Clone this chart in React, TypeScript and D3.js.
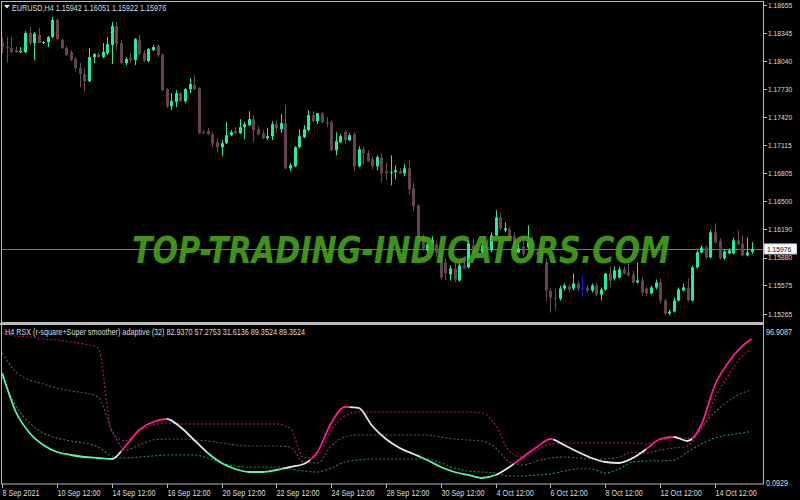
import React, { useLayoutEffect, useRef, useState } from 'react';
import * as d3 from 'd3';

const barOpen = [
  1.18237,1.18193,1.18182,1.18160,1.18138,1.18138,1.18347,1.18237,1.18325,1.18237,
  1.18248,1.18303,1.18490,1.18270,1.18182,1.18138,1.18061,1.17962,1.17896,1.17819,
  1.18083,1.18116,1.18083,1.18127,1.18215,1.18424,1.18237,1.18017,1.18072,1.18050,
  1.18270,1.18127,1.18039,1.18160,1.18204,1.18105,1.17731,1.17544,1.17588,1.17687,
  1.17599,1.17731,1.17775,1.17742,1.17258,1.17269,1.17236,1.17148,1.17093,1.17137,
  1.17225,1.17269,1.17247,1.17313,1.17335,1.17401,1.17291,1.17247,1.17192,1.17214,
  1.17346,1.17291,1.17357,1.16862,1.16884,1.17093,1.17203,1.17280,1.17445,1.17379,
  1.17467,1.17368,1.17368,1.17060,1.17148,1.17258,1.17170,1.17236,1.16884,1.17071,
  1.17027,1.16961,1.16884,1.16983,1.16829,1.16807,1.16818,1.16829,1.16807,1.16862,
  1.16642,1.16455,1.16103,1.15960,1.16026,1.16026,1.15938,1.15828,1.15696,1.15762,
  1.15630,1.15795,1.15773,1.16015,1.15982,1.15938,1.16004,1.15960,1.16125,1.16323,
  1.16180,1.16191,1.16114,1.15938,1.16004,1.15993,1.16048,1.15938,1.15938,1.15828,
  1.15520,1.15443,1.15432,1.15542,1.15564,1.15542,1.15597,1.15542,1.15553,1.15520,
  1.15575,1.15476,1.15531,1.15707,1.15652,1.15663,1.15751,1.15718,1.15696,1.15608,
  1.15630,1.15542,1.15487,1.15553,1.15608,1.15410,1.15267,1.15289,1.15410,1.15520,
  1.15553,1.15410,1.15773,1.15938,1.15993,1.15883,1.16158,1.16059,1.15872,1.15927,
  1.15927,1.16070,1.16037,1.15905,1.15942,
];
const barHigh = [
  1.18303,1.18303,1.18303,1.18193,1.18193,1.18369,1.18413,1.18358,1.18402,1.18259,
  1.18314,1.18523,1.18512,1.18281,1.18204,1.18160,1.18083,1.18017,1.17962,1.18182,
  1.18127,1.18138,1.18237,1.18303,1.18468,1.18468,1.18270,1.18083,1.18127,1.18292,
  1.18325,1.18160,1.18182,1.18215,1.18226,1.18127,1.17742,1.17687,1.17720,1.17698,
  1.17742,1.17852,1.17885,1.17753,1.17280,1.17302,1.17258,1.17192,1.17170,1.17368,
  1.17280,1.17313,1.17401,1.17368,1.17489,1.17445,1.17324,1.17280,1.17302,1.17379,
  1.17390,1.17456,1.17555,1.16917,1.17104,1.17291,1.17335,1.17500,1.17489,1.17467,
  1.17478,1.17423,1.17390,1.17258,1.17236,1.17280,1.17247,1.17258,1.17104,1.17104,
  1.17060,1.16994,1.17005,1.17027,1.16928,1.17005,1.16895,1.16862,1.16906,1.16950,
  1.16708,1.16466,1.16136,1.16048,1.16114,1.16070,1.15960,1.15872,1.15795,1.15828,
  1.15828,1.15850,1.16070,1.16092,1.16048,1.16070,1.16081,1.16158,1.16400,1.16378,
  1.16268,1.16224,1.16158,1.16026,1.16070,1.16235,1.16114,1.15982,1.15960,1.15872,
  1.15542,1.15542,1.15575,1.15597,1.15586,1.15707,1.15630,1.15674,1.15575,1.15597,
  1.15608,1.15553,1.15707,1.15784,1.15784,1.15784,1.15784,1.15817,1.15740,1.15828,
  1.15663,1.15564,1.15575,1.15641,1.15652,1.15432,1.15311,1.15443,1.15553,1.15597,
  1.15652,1.15795,1.15960,1.16015,1.16015,1.16180,1.16257,1.16092,1.15971,1.15982,
  1.16103,1.16180,1.16125,1.16103,1.16051,
];
const barLow = [
  1.18127,1.18028,1.18127,1.18127,1.18127,1.18127,1.18215,1.18050,1.18237,1.18226,
  1.18193,1.18292,1.18270,1.18171,1.18094,1.18039,1.17929,1.17753,1.17698,1.17808,
  1.18017,1.18072,1.18072,1.18105,1.18006,1.18160,1.18006,1.17995,1.18028,1.17995,
  1.18105,1.18028,1.18028,1.18149,1.18083,1.17709,1.17522,1.17500,1.17533,1.17588,
  1.17577,1.17687,1.17720,1.17236,1.17236,1.17225,1.17093,1.17038,1.16994,1.17126,
  1.17214,1.17236,1.17236,1.17181,1.17324,1.17148,1.17225,1.17181,1.17170,1.17170,
  1.17247,1.17247,1.16851,1.16829,1.16873,1.17082,1.17192,1.17269,1.17368,1.17346,
  1.17357,1.17313,1.17049,1.17005,1.17137,1.17126,1.17159,1.16840,1.16873,1.16906,
  1.16928,1.16851,1.16840,1.16708,1.16730,1.16675,1.16741,1.16796,1.16774,1.16565,
  1.16400,1.16092,1.15960,1.15927,1.15993,1.15894,1.15641,1.15630,1.15630,1.15608,
  1.15619,1.15751,1.15762,1.15894,1.15872,1.15916,1.15938,1.15938,1.16114,1.16180,
  1.16158,1.16070,1.15916,1.15927,1.15894,1.15960,1.15927,1.15894,1.15806,1.15410,
  1.15278,1.15300,1.15410,1.15520,1.15498,1.15520,1.15509,1.15465,1.15498,1.15498,
  1.15454,1.15410,1.15520,1.15553,1.15630,1.15652,1.15696,1.15674,1.15586,1.15597,
  1.15465,1.15454,1.15476,1.15531,1.15377,1.15245,1.15245,1.15278,1.15399,1.15509,
  1.15399,1.15399,1.15762,1.15927,1.15872,1.15872,1.16037,1.15861,1.15850,1.15916,
  1.15916,1.16015,1.15894,1.15894,1.15922,
];
const barClose = [
  1.18193,1.18182,1.18138,1.18138,1.18149,1.18347,1.18237,1.18336,1.18237,1.18248,
  1.18303,1.18490,1.18281,1.18182,1.18105,1.18050,1.17962,1.17896,1.17819,1.18083,
  1.18116,1.18083,1.18138,1.18226,1.18424,1.18226,1.18017,1.18061,1.18050,1.18281,
  1.18116,1.18039,1.18171,1.18193,1.18105,1.17720,1.17544,1.17599,1.17687,1.17599,
  1.17731,1.17786,1.17731,1.17247,1.17247,1.17236,1.17137,1.17093,1.17137,1.17225,
  1.17258,1.17247,1.17313,1.17346,1.17401,1.17280,1.17236,1.17192,1.17214,1.17346,
  1.17302,1.17357,1.16862,1.16895,1.17093,1.17214,1.17291,1.17445,1.17379,1.17467,
  1.17368,1.17357,1.17060,1.17159,1.17214,1.17170,1.17225,1.16884,1.17071,1.17027,
  1.16939,1.16884,1.16983,1.16807,1.16807,1.16818,1.16840,1.16807,1.16862,1.16631,
  1.16444,1.16103,1.15982,1.16026,1.16070,1.15938,1.15663,1.15707,1.15762,1.15641,
  1.15795,1.15762,1.16037,1.15938,1.15927,1.16015,1.15960,1.16125,1.16323,1.16202,
  1.16202,1.16103,1.15938,1.15982,1.15916,1.16048,1.15938,1.15916,1.15828,1.15520,
  1.15443,1.15432,1.15542,1.15575,1.15531,1.15597,1.15542,1.15542,1.15520,1.15575,
  1.15476,1.15531,1.15707,1.15630,1.15740,1.15751,1.15707,1.15685,1.15608,1.15630,
  1.15498,1.15487,1.15553,1.15608,1.15410,1.15267,1.15289,1.15410,1.15531,1.15553,
  1.15410,1.15773,1.15938,1.15993,1.15883,1.16158,1.16048,1.15872,1.15949,1.15960,
  1.16070,1.16026,1.15905,1.15938,1.15976,
];

const priceTicks = [1.18655,1.18345,1.18040,1.17730,1.17420,1.17115,1.16805,1.16500,1.16190,1.15880,1.15575,1.15265];
const lastPrice = 1.15976;

const timeLabels = ['8 Sep 2021','10 Sep 12:00','14 Sep 12:00','16 Sep 12:00','20 Sep 12:00','22 Sep 12:00','24 Sep 12:00','28 Sep 12:00','30 Sep 12:00','4 Oct 12:00','6 Oct 12:00','8 Oct 12:00','12 Oct 12:00','14 Oct 12:00'];
const timeLabelBars = [0,12,24,36,48,60,72,84,96,108,120,132,144,156];

const indicatorBars = [
  0,3,6,9,12,15,18,21,24,27,30,33,36,39,42,45,48,51,54,57,
  60,63,66,69,72,75,78,81,84,87,90,93,96,99,102,105,108,111,114,117,
  120,123,126,129,132,135,138,141,144,147,150,153,156,159,162,164,
];
const rsxLine = [
  68.09,43.68,30.54,23.03,18.65,16.77,15.52,14.89,14.27,22.40,
  32.42,37.42,39.30,34.29,26.16,18.02,11.77,8.01,6.13,6.13,
  7.38,9.26,11.14,18.65,36.80,46.80,46.20,34.92,26.78,21.15,
  17.40,13.64,9.26,6.13,4.26,2.38,4.26,9.26,15.52,21.78,
  26.78,23.03,18.65,14.89,12.39,11.77,14.89,20.53,26.78,28.04,
  25.53,35.55,60.58,74.97,84.98,89.3524,
];
const upperBand = [
  93.12,91.24,90.62,89.36,88.74,87.49,86.24,83.73,31.16,25.53,
  31.79,35.55,36.80,36.17,36.17,36.17,36.17,36.17,36.17,36.17,
  36.17,33.67,14.89,16.77,32.42,41.18,43.68,43.68,43.68,43.68,
  43.68,43.68,43.68,43.68,43.68,43.06,35.55,19.27,15.52,19.90,
  23.66,24.28,24.28,24.28,24.28,24.28,24.28,23.66,26.16,27.41,
  27.41,32.42,52.44,66.84,78.73,82.937,
];
const middleBand = [
  80.60,68.71,63.71,61.20,58.70,56.82,55.57,53.07,32.42,19.90,
  23.03,26.16,26.78,26.78,26.16,25.53,24.28,23.03,22.40,22.40,
  22.40,21.78,12.39,11.77,22.40,28.04,29.29,29.29,29.29,29.29,
  29.29,29.29,28.04,26.78,26.16,25.53,21.15,12.39,10.51,13.02,
  14.89,15.52,14.89,14.27,14.27,15.52,18.65,18.02,19.90,21.15,
  22.40,33.67,43.68,50.56,55.57,57.2753,
];
const lowerBand = [
  65.58,47.43,36.80,30.54,27.41,25.53,24.28,21.78,16.15,14.89,
  15.52,16.15,16.77,16.77,16.77,14.89,11.77,9.89,9.26,9.26,
  9.26,8.01,6.76,6.13,8.64,12.39,13.64,14.27,14.27,14.27,
  14.27,14.27,11.77,8.64,6.76,6.13,5.51,3.63,3.63,4.26,
  4.88,6.76,8.01,8.01,5.51,8.01,12.39,13.02,13.02,13.64,
  18.65,23.66,27.41,29.29,30.54,31.6136,
];
// trend state of the RSX line between bar indices
const rsxStateFrom = [-1,24,26,36,45,61.5,67.4,76,91.5,108,112,120.6,141,147,151];
const rsxStateTo = [24,26,36,45,61.5,67.4,76,91.5,108,112,120.6,141,147,151,166];
const rsxState = ['down','flat','up','flat','down','flat','up','flat','down','flat','up','flat','up','flat','up'];

const indMax = 96.9087;
const indMin = 0.0929;

const FONT = '"Liberation Sans", Arial, sans-serif';
const TXT = '#dedede';

function Label({ x, y, children, fill = TXT, size = 8.6, sx = 0.84 }: any) {
  return (
    <text transform={`translate(${x},${y}) scale(${sx},1)`} fill={fill} fontSize={size} fontFamily={FONT}>
      {children}
    </text>
  );
}

function Watermark() {
  const ref = useRef<SVGTextElement>(null);
  const [sx, setSx] = useState(0.74);
  useLayoutEffect(() => {
    if (ref.current) {
      const len = ref.current.getComputedTextLength();
      if (len > 0) setSx(538 / len);
    }
  }, []);
  return (
    <text
      ref={ref}
      transform={`translate(132,263) scale(${sx},1)`}
      fontFamily='"DejaVu Sans", sans-serif'
      fontWeight="bold"
      fontStyle="italic"
      fontSize={37}
      fill="#46a01c"
      fillOpacity={0.92}
    >
      TOP-TRADING-INDICATORS.COM
    </text>
  );
}

export default function App() {
  const n = barClose.length;
  const x = d3.scaleLinear().domain([0, n - 1]).range([2.2, 751.5]);
  const yP = d3.scaleLinear().domain([1.15265, 1.18655]).range([313.7, 5]);
  const yI = d3.scaleLinear().domain([indMin, indMax]).range([481.65, 326.94]);

  const mk = (vals: number[]) =>
    d3.line<number>().x((_, i) => x(indicatorBars[i])).y((d) => yI(d)).curve(d3.curveMonotoneX)(vals) || '';

  const stateColor: Record<string, string> = { up: '#ff1a8e', flat: '#e6e6e6', down: '#5ef2a6' };

  const bull = '#1cf0a0';
  const bear = '#644355';
  const bearWick = '#6e4c5e';

  const rsxPath = mk(rsxLine);

  return (
    <div style={{ position: 'absolute', left: 0, top: 0, width: 800, height: 500, background: '#000' }}>
      <svg width={800} height={500} style={{ display: 'block' }}>
        <defs>
          <clipPath id="mainClip">
            <rect x={2} y={2} width={761} height={320} />
          </clipPath>
          <clipPath id="subClip">
            <rect x={2} y={326} width={761} height={157} />
          </clipPath>
          {rsxState.map((s, i) => (
            <clipPath id={`rsx-${i}`} key={i}>
              <rect x={x(rsxStateFrom[i])} y={320} width={x(rsxStateTo[i]) - x(rsxStateFrom[i])} height={170} />
            </clipPath>
          ))}
        </defs>
        <rect x={0} y={0} width={800} height={500} fill="#000" />

        {/* main panel */}
        <g clipPath="url(#mainClip)">
          <line x1={0} x2={763} y1={Math.round(yP(lastPrice)) + 0.5} y2={Math.round(yP(lastPrice)) + 0.5} stroke="#8a6a76" strokeWidth={1} />
          {barClose.map((c, i) => {
            const o = barOpen[i];
            const cx = Math.round(x(i)) + 0.5;
            const isDoji = o === c;
            const up = c > o;
            const col = isDoji ? '#1a1ae0' : up ? bull : bear;
            const wcol = isDoji ? '#1a1ae0' : up ? bull : bearWick;
            const top = yP(Math.max(o, c));
            const bot = yP(Math.min(o, c));
            return (
              <g key={i}>
                <line x1={cx} x2={cx} y1={yP(barHigh[i])} y2={yP(barLow[i])} stroke={wcol} strokeWidth={1} />
                <rect x={cx - 1.5} y={top} width={3} height={Math.max(1, bot - top)} fill={col} />
              </g>
            );
          })}
          <Watermark />
        </g>

        {/* frames */}
        <rect x={1.5} y={1.5} width={762} height={321} fill="none" stroke="#b8b8b8" strokeWidth={1} />
        <line x1={0} x2={764} y1={324} y2={324} stroke="#bdbdbd" strokeWidth={2} />
        <line x1={1.5} x2={1.5} y1={324} y2={484} stroke="#b8b8b8" strokeWidth={1} />
        <line x1={763.5} x2={763.5} y1={324} y2={484} stroke="#b8b8b8" strokeWidth={1} />
        <line x1={1} x2={764} y1={484} y2={484} stroke="#b8b8b8" strokeWidth={1} />

        {/* title */}
        <path d="M4,5 L10,5 L7,8.5 Z" fill="#e8e8e8" />
        <Label x={12} y={10.5}>EURUSD,H4  1.15942 1.16051 1.15922 1.15976</Label>

        {/* price axis */}
        {priceTicks.map((p, i) => (
          <g key={i}>
            <line x1={763} x2={767} y1={Math.round(yP(p)) + 0.5} y2={Math.round(yP(p)) + 0.5} stroke="#b8b8b8" />
            <Label x={768} y={yP(p) + 2.8} size={8}>{p.toFixed(5)}</Label>
          </g>
        ))}
        <rect x={764.5} y={yP(lastPrice) - 5} width={32} height={10} fill="#ffffff" stroke="#d0d0d0" />
        <Label x={767} y={yP(lastPrice) + 2.8} fill="#000" size={8}>{lastPrice.toFixed(5)}</Label>

        {/* indicator panel */}
        <g clipPath="url(#subClip)">
          <path d={mk(lowerBand)} fill="none" stroke="#23925a" strokeWidth={1.1} strokeDasharray="2,2" />
          <path d={mk(middleBand)} fill="none" stroke="#6e5260" strokeWidth={1.1} strokeDasharray="2,2" />
          <path d={mk(upperBand)} fill="none" stroke="#b8176a" strokeWidth={1.1} strokeDasharray="2,2" />
          {rsxState.map((s, i) => (
            <path key={i} d={rsxPath} fill="none" stroke={stateColor[s]} strokeWidth={1.8} clipPath={`url(#rsx-${i})`} />
          ))}
        </g>
        <Label x={5} y={335}>H4 RSX (r-square+Super smoother) adaptive (32) 82.9370 57.2753 31.6136 89.3524 89.3524</Label>
        <Label x={766} y={334.5}>{indMax.toFixed(4)}</Label>
        <Label x={766} y={485.5}>{indMin.toFixed(4)}</Label>

        {/* time axis */}
        {timeLabels.map((t, i) => {
          const tx = Math.round(x(timeLabelBars[i])) + 0.5;
          return (
            <g key={i}>
              <line x1={tx} x2={tx} y1={484} y2={488} stroke="#b8b8b8" />
              <Label x={tx} y={496}>{t}</Label>
            </g>
          );
        })}
      </svg>
    </div>
  );
}
